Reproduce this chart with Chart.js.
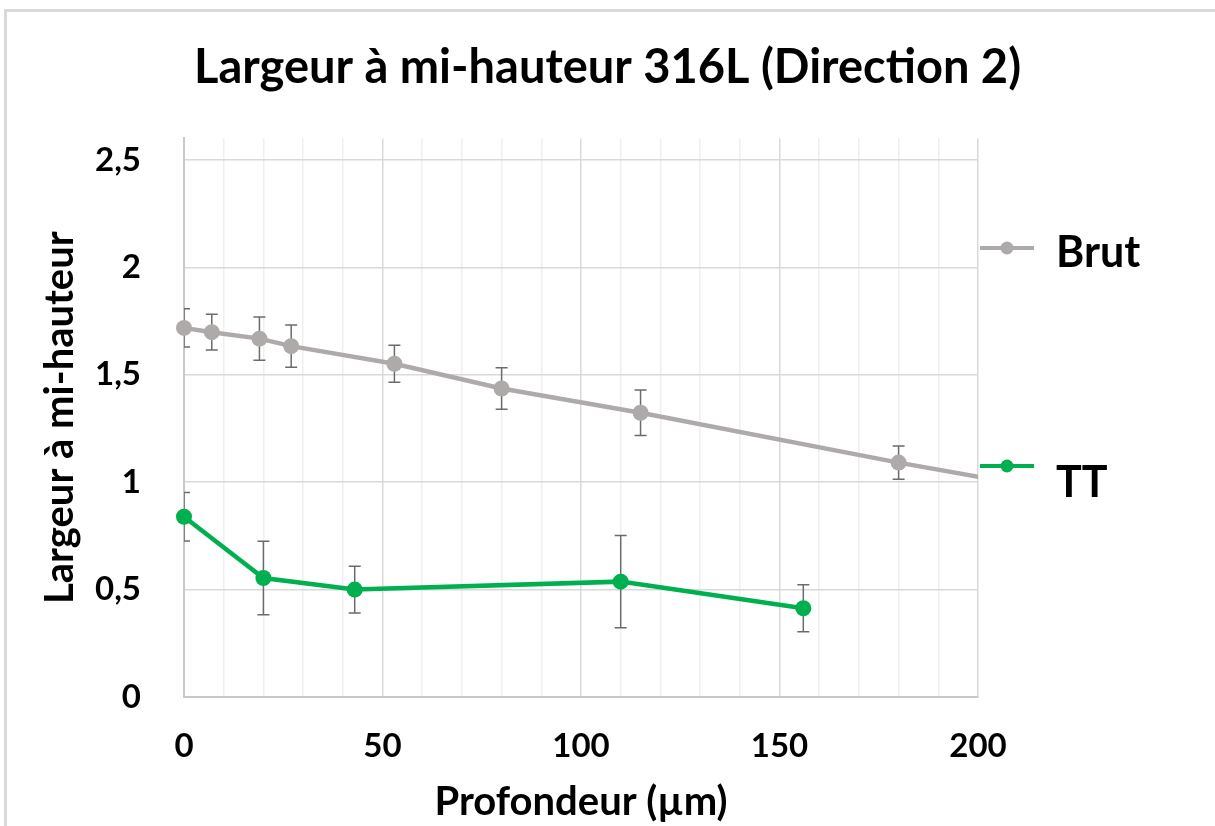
<!DOCTYPE html>
<html lang="fr">
<head>
<meta charset="utf-8">
<title>Largeur à mi-hauteur 316L</title>
<script src="https://cdn.jsdelivr.net/npm/chart.js@4.4.0/dist/chart.umd.min.js"></script>
<style>
  html, body { margin: 0; padding: 0; background: #fff; overflow: hidden; }
  #cadre {
    position: absolute; left: 4px; top: 9px; width: 1300px; height: 900px;
    border-left: 3px solid #d9d9d9; border-top: 3px solid #d9d9d9;
  }
  #graphe { position: absolute; left: 0; top: 0; }
</style>
</head>
<body>
<div id="cadre"></div>
<canvas id="graphe" width="1215" height="826"></canvas>
<script>
// profondeur (µm), largeur à mi-hauteur et écart (barres d'erreur)
const brutProf = [0, 7, 19, 27, 53, 80, 115, 180, 250];
const brutLarg = [1.718, 1.698, 1.668, 1.633, 1.551, 1.436, 1.323, 1.091, 0.86];
const brutErr = [0.089, 0.083, 0.101, 0.098, 0.086, 0.097, 0.106, 0.077, 0.08];

const ttProf = [0, 20, 43, 110, 156];
const ttLarg = [0.839, 0.554, 0.50, 0.537, 0.413];
const ttErr = [0.113, 0.171, 0.109, 0.215, 0.109];

const yTicks = [0, 0.5, 1, 1.5, 2, 2.5];

const GRIS = '#aeaaaa';
const VERT = '#00b050';
const POLICE = 'Lato';

const points = (xs, ys) => xs.map((x, i) => ({ x: x, y: ys[i] }));

// barres d'erreur verticales, sous les marqueurs
const barresErreur = {
    id: 'barresErreur',
    beforeDatasetsDraw(chart) {
        const ctx = chart.ctx;
        const xs = chart.scales.x, ys = chart.scales.y;
        const a = chart.chartArea;
        ctx.save();
        ctx.beginPath();
        ctx.rect(a.left, a.top - 20, a.right - a.left, a.bottom - a.top + 40);
        ctx.clip();
        ctx.strokeStyle = '#6b6b6b';
        ctx.lineWidth = 1.5;
        chart.data.datasets.forEach(ds => {
            ds.data.forEach((p, i) => {
                const e = ds.erreurs[i];
                const px = xs.getPixelForValue(p.x);
                const y1 = ys.getPixelForValue(p.y + e);
                const y2 = ys.getPixelForValue(p.y - e);
                ctx.beginPath();
                ctx.moveTo(px, y1); ctx.lineTo(px, y2);
                ctx.moveTo(px - 6, y1); ctx.lineTo(px + 6, y1);
                ctx.moveTo(px - 6, y2); ctx.lineTo(px + 6, y2);
                ctx.stroke();
            });
        });
        ctx.restore();
    }
};

// légende à droite, chaque entrée à sa hauteur
const legendeDroite = {
    id: 'legendeDroite',
    afterDraw(chart) {
        const ctx = chart.ctx;
        const entrees = [
            { texte: 'Brut', couleur: GRIS, yTrait: 248, yTexte: 267 },
            { texte: 'TT', couleur: VERT, yTrait: 466, yTexte: 497 }
        ];
        ctx.save();
        entrees.forEach(e => {
            ctx.strokeStyle = e.couleur;
            ctx.lineWidth = 4;
            ctx.beginPath();
            ctx.moveTo(980, e.yTrait); ctx.lineTo(1034, e.yTrait);
            ctx.stroke();
            ctx.fillStyle = e.couleur;
            ctx.beginPath();
            ctx.arc(1007, e.yTrait, 6.5, 0, Math.PI * 2);
            ctx.fill();
            ctx.fillStyle = '#000';
            ctx.font = 'bold 43px ' + POLICE;
            ctx.textAlign = 'left';
            ctx.textBaseline = 'alphabetic';
            ctx.fillText(e.texte, 1056, e.yTexte);
        });
        ctx.restore();
    }
};

const clipSerie = { left: 12, right: 0, top: 12, bottom: 12 };

new Chart(document.getElementById('graphe'), {
    type: 'line',
    data: {
        datasets: [{
            label: 'Brut',
            data: points(brutProf, brutLarg),
            erreurs: brutErr,
            borderColor: GRIS,
            backgroundColor: GRIS,
            borderWidth: 4.5,
            pointRadius: 8,
            pointBorderWidth: 0,
            pointHoverRadius: 8,
            tension: 0,
            clip: clipSerie
        }, {
            label: 'TT',
            data: points(ttProf, ttLarg),
            erreurs: ttErr,
            borderColor: VERT,
            backgroundColor: VERT,
            borderWidth: 4.5,
            pointRadius: 8,
            pointBorderWidth: 0,
            pointHoverRadius: 8,
            tension: 0,
            clip: clipSerie
        }]
    },
    options: {
        responsive: false,
        animation: false,
        layout: { padding: 0 },
        plugins: {
            legend: { display: false },
            tooltip: { enabled: false },
            title: {
                display: true,
                text: 'Largeur à mi-hauteur 316L (Direction 2)',
                color: '#000',
                font: { family: POLICE, size: 47, weight: 'bold', lineHeight: 1.2 },
                padding: { top: 40, bottom: 42 }
            }
        },
        scales: {
            x: {
                type: 'linear',
                min: 0,
                max: 200,
                afterFit(s) { s.height = 129; },
                ticks: {
                    stepSize: 10,
                    autoSkip: false,
                    maxRotation: 0,
                    padding: 30,
                    color: '#000',
                    font: { family: POLICE, size: 33, weight: 'bold' },
                    callback: v => (v % 50 === 0 ? String(v) : '')
                },
                grid: {
                    drawTicks: false,
                    lineWidth: 1.5,
                    color: c => (c.tick && c.tick.value % 50 === 0 ? '#d9d9d9' : '#efefef')
                },
                border: { display: true, color: '#c8c8c8', width: 2 },
                title: {
                    display: true,
                    text: 'Profondeur (µm)',
                    color: '#000',
                    font: { family: POLICE, size: 40, weight: 'bold', lineHeight: 1.2 },
                    padding: { top: 0, bottom: 0 }
                }
            },
            y: {
                min: 0,
                max: 2.6,
                afterFit(s) { s.width = 184; },
                afterBuildTicks(s) { s.ticks = yTicks.map(v => ({ value: v })); },
                ticks: {
                    padding: 43,
                    color: '#000',
                    font: { family: POLICE, size: 33, weight: 'bold' },
                    callback: v => String(v).replace('.', ',')
                },
                grid: { drawTicks: false, lineWidth: 1.5, color: '#d9d9d9' },
                border: { display: true, color: '#c8c8c8', width: 2 },
                title: {
                    display: true,
                    text: 'Largeur à mi-hauteur',
                    color: '#000',
                    font: { family: POLICE, size: 40, weight: 'bold', lineHeight: 1.2 },
                    padding: { top: 36, bottom: 0 }
                }
            },
            // axe vide à droite : réserve la place de la légende
            marge: {
                type: 'linear',
                position: 'right',
                display: true,
                afterFit(s) { s.width = 237; },
                ticks: { display: false },
                grid: { display: false, drawOnChartArea: false },
                border: { display: false }
            }
        }
    },
    plugins: [barresErreur, legendeDroite]
});
</script>
</body>
</html>
